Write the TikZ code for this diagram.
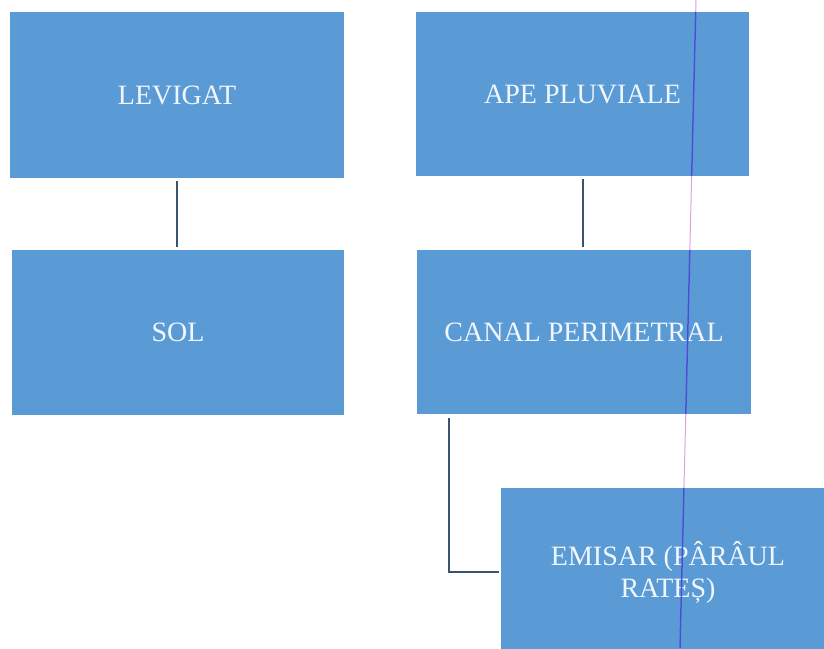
\documentclass[tikz,border=0pt]{standalone}
\usepackage{fontspec}
\setmainfont{Liberation Serif}
\definecolor{boxblue}{RGB}{91,155,213}
\definecolor{boxtext}{RGB}{240,246,252}
\definecolor{linkgray}{RGB}{58,84,112}
\definecolor{marginpink}{RGB}{226,160,226}
\definecolor{marginblue}{RGB}{70,80,215}
\begin{document}
\begin{tikzpicture}[x=1pt,y=-1pt,
  block/.style={fill=boxblue,draw=none,inner sep=0pt,text=boxtext,
    font=\fontsize{28}{32}\selectfont,align=center},
  link/.style={draw=linkgray,line width=1.8pt}]
\useasboundingbox (0,0) rectangle (824,648);
\fill[white] (0,0) rectangle (824,648);
\begin{scope}
\clip (0,0) rectangle (824,648);
% blocks
\node[block,minimum width=334pt,minimum height=166pt] (lev) at (177,95) {LEVIGAT};
\node[block,minimum width=332pt,minimum height=165pt] (sol) at (178,332.5) {SOL};
\node[block,minimum width=333pt,minimum height=164pt] (ape) at (582.5,94) {APE PLUVIALE};
\node[block,minimum width=334pt,minimum height=164pt] (can) at (584,332) {CANAL PERIMETRAL};
\node[block,minimum width=334pt,minimum height=168pt] (emi) at (668,572) {EMISAR (PÂRÂUL\\RATEȘ)};
% connectors
\draw[link] ([yshift=-3pt]lev.south) -- ([yshift=3pt]lev.south |- sol.north);
\draw[link] ([xshift=0.5pt,yshift=-3pt]ape.south) -- ([xshift=0.5pt,yshift=3pt]ape.south |- can.north);
\draw[link] ([xshift=32pt,yshift=-4pt]can.south west) |- ([xshift=-2pt]emi.west);
% ruled margin line
\draw[marginpink,line width=1pt] (696,0) -- (680,648);
\begin{scope}
\clip (ape.north west) rectangle (ape.south east)
      (can.north west) rectangle (can.south east)
      (emi.north west) rectangle (emi.south east);
\draw[marginblue,line width=1.5pt] (696,0) -- (680,648);
\end{scope}
\end{scope}
\end{tikzpicture}
\end{document}
